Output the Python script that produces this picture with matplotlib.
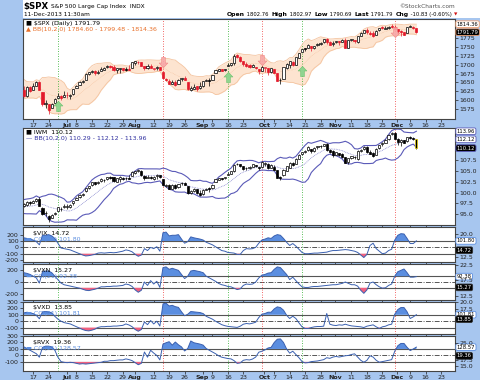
import numpy as np
import pandas as pd
import matplotlib
matplotlib.use('Agg')
import matplotlib.pyplot as plt
from matplotlib.patches import Rectangle
from matplotlib.path import Path

# ---------------- data ----------------
holidays = ['2013-07-04', '2013-09-02', '2013-11-28', '2013-12-25']
n_pre = 9  # closes before the first visible bar (for the BB(10) warm-up)

spx_pre_close = [1654.41, 1630.74, 1640.42, 1631.38, 1608.90, 1622.56, 1643.38, 1642.81, 1626.13]
spx_close = [1612.52, 1636.36, 1626.73, 1639.04, 1651.81, 1628.93, 1588.19, 1592.43, 1573.09, 1588.03,
             1603.26, 1613.20, 1606.28, 1614.96, 1614.08, 1615.41, 1631.89, 1640.46, 1652.32, 1652.62,
             1675.02, 1680.19, 1682.50, 1676.26, 1680.91, 1689.37, 1692.09, 1695.53, 1692.39, 1685.94,
             1690.25, 1691.65, 1685.33, 1685.96, 1685.73, 1706.87, 1709.67, 1707.14, 1697.37, 1690.91,
             1697.48, 1691.42, 1689.47, 1694.16, 1685.39, 1661.32, 1655.83, 1646.06, 1652.35, 1642.80,
             1656.96, 1663.50, 1656.78, 1630.48, 1634.96, 1638.17, 1632.97, 1639.77, 1653.08, 1655.08,
             1655.17, 1671.71, 1683.99, 1689.13, 1683.42, 1687.99, 1697.60, 1704.76, 1725.52, 1722.34,
             1709.91, 1701.84, 1697.42, 1692.77, 1698.67, 1691.75, 1681.55, 1695.00, 1693.87, 1678.66,
             1690.50, 1676.12, 1655.45, 1656.40, 1692.56, 1703.20, 1710.14, 1698.06, 1721.54, 1733.15,
             1744.50, 1744.66, 1754.67, 1746.38, 1752.07, 1759.77, 1762.11, 1771.95, 1763.31, 1756.54,
             1761.64, 1767.93, 1762.97, 1770.49, 1747.15, 1770.61, 1771.89, 1767.69, 1782.00, 1790.62,
             1798.18, 1791.53, 1787.87, 1781.37, 1795.85, 1804.76, 1802.48, 1802.75, 1807.23, 1805.81,
             1800.90, 1795.15, 1792.81, 1785.03, 1805.09, 1808.37, 1802.62, 1791.79]
spx_open = [1630, 1612, 1636, 1630, 1639, 1651, 1624, 1588, 1588, 1577,
            1592, 1606, 1611, 1609, 1614, 1611, 1618, 1634, 1642, 1652,
            1657, 1675, 1679, 1681, 1678, 1682, 1686, 1693, 1696, 1695,
            1684, 1687, 1690, 1687, 1687, 1690, 1706, 1708, 1707, 1696,
            1692, 1697, 1688, 1690, 1693, 1679, 1661, 1655, 1646, 1650,
            1645, 1659, 1664, 1652, 1630, 1633, 1639, 1635, 1640, 1654,
            1657, 1657, 1677, 1682, 1688, 1685, 1697, 1698, 1704, 1727,
            1722, 1711, 1702, 1698, 1695, 1695, 1688, 1682, 1691, 1692,
            1679, 1687, 1676, 1656, 1660, 1691, 1699, 1709, 1700, 1720,
            1737, 1745, 1746, 1752, 1748, 1756, 1759, 1763, 1772, 1763,
            1759, 1763, 1766, 1765, 1770, 1748, 1769, 1769, 1764, 1782,
            1790, 1798, 1790, 1789, 1784, 1797, 1806, 1801, 1804, 1808,
            1806, 1800, 1794, 1792, 1789, 1807, 1807, 1802.76]
spx_high = [1640, 1640, 1640, 1649, 1654, 1653, 1624, 1601, 1588, 1593,
            1606, 1620, 1615, 1626, 1624, 1618, 1632, 1644, 1654, 1657,
            1676, 1680, 1684, 1684, 1684, 1693, 1693, 1698, 1698, 1698,
            1690, 1692, 1690, 1693, 1698, 1707, 1710, 1710, 1707, 1696,
            1701, 1703, 1691, 1696, 1695, 1679, 1664, 1660, 1658, 1657,
            1660, 1664, 1669, 1652, 1641, 1646, 1641, 1652, 1655, 1659,
            1664, 1672, 1684, 1689, 1689, 1688, 1705, 1706, 1729, 1729,
            1725, 1711, 1707, 1701, 1703, 1695, 1688, 1696, 1694, 1692,
            1691, 1688, 1676, 1662, 1692, 1704, 1711, 1711, 1721, 1734,
            1745, 1747, 1759, 1752, 1753, 1760, 1764, 1772, 1775, 1768,
            1766, 1768, 1767, 1773, 1775, 1771, 1773, 1771, 1782, 1791,
            1798, 1803, 1795, 1795, 1797, 1805, 1808, 1808, 1809, 1814,
            1811, 1800, 1799, 1792, 1806, 1811, 1808, 1802.97]
spx_low = [1610, 1608, 1624, 1630, 1639, 1628, 1584, 1577, 1560, 1577,
           1592, 1606, 1601, 1609, 1606, 1604, 1614, 1634, 1642, 1648,
           1657, 1672, 1677, 1671, 1674, 1682, 1684, 1692, 1691, 1682,
           1678, 1676, 1682, 1681, 1684, 1690, 1700, 1701, 1696, 1684,
           1689, 1690, 1684, 1684, 1684, 1659, 1654, 1646, 1646, 1641,
           1645, 1654, 1656, 1630, 1627, 1633, 1627, 1633, 1637, 1653,
           1640, 1657, 1676, 1681, 1681, 1682, 1697, 1697, 1700, 1720,
           1709, 1697, 1694, 1691, 1694, 1687, 1674, 1682, 1680, 1670,
           1677, 1676, 1655, 1646, 1660, 1689, 1692, 1697, 1700, 1719,
           1735, 1740, 1746, 1740, 1745, 1753, 1757, 1762, 1758, 1755,
           1752, 1761, 1756, 1764, 1747, 1746, 1767, 1762, 1760, 1780,
           1790, 1788, 1785, 1778, 1784, 1794, 1800, 1800, 1802, 1805,
           1799, 1787, 1780, 1783, 1789, 1806, 1801, 1790.69]

iwm_pre_close = [97.5, 97.0, 97.3, 96.6, 95.0, 95.8, 97.3, 97.6, 96.5]
iwm_close = [97.4, 97.9, 97.5, 98.0, 98.6, 97.0, 95.0, 95.3, 93.9, 94.8,
             95.4, 96.6, 96.2, 96.9, 96.8, 97.2, 98.0, 98.8, 99.4, 99.6,
             101.0, 101.4, 102.3, 102.0, 102.5, 103.0, 102.8, 103.5, 103.3, 102.6,
             103.3, 103.6, 103.0, 103.2, 103.1, 104.7, 104.9, 105.2, 104.0, 103.2,
             103.6, 103.2, 103.6, 104.0, 103.5, 101.6, 101.6, 100.8, 101.8, 101.0,
             101.9, 102.2, 101.8, 99.8, 100.3, 100.7, 99.8, 99.5, 100.6, 100.9,
             100.8, 101.8, 103.0, 103.4, 103.1, 103.6, 104.2, 105.0, 106.3, 106.5,
             106.0, 105.4, 105.6, 105.7, 106.4, 106.1, 105.6, 107.0, 106.7, 105.6,
             106.3, 105.2, 103.4, 103.2, 105.2, 106.0, 106.8, 106.2, 107.7, 108.6,
             109.2, 109.4, 110.3, 109.5, 110.2, 110.5, 110.6, 111.0, 109.7, 109.2,
             108.5, 109.2, 108.6, 108.0, 106.8, 107.8, 108.3, 108.0, 109.5, 109.8,
             110.4, 109.2, 108.8, 108.3, 110.0, 110.8, 111.2, 112.0, 113.2, 113.5,
             112.3, 111.6, 111.9, 111.3, 112.6, 112.4, 112.3, 110.12]
iwm_open = [96.9, 97.2, 97.8, 97.7, 98.0, 98.6, 96.5, 95.4, 94.6, 94.3,
            95.2, 95.8, 96.3, 96.6, 96.8, 96.6, 97.5, 98.4, 99.0, 99.4,
            100.3, 101.0, 101.6, 102.3, 102.1, 102.7, 102.9, 103.0, 103.6, 103.5,
            102.4, 103.0, 103.4, 103.3, 103.4, 103.8, 104.5, 104.8, 105.0, 103.8,
            103.4, 103.6, 103.1, 103.7, 103.9, 103.0, 101.5, 101.6, 100.9, 101.6,
            101.2, 102.1, 102.2, 101.4, 99.8, 100.3, 100.8, 100.0, 99.6, 100.6,
            101.0, 101.0, 102.4, 102.9, 103.3, 103.2, 104.0, 104.3, 104.9, 106.4,
            106.4, 106.0, 105.5, 105.7, 105.9, 106.2, 105.8, 105.8, 106.6, 106.6,
            105.7, 105.9, 105.1, 103.5, 103.9, 105.0, 105.6, 106.8, 106.6, 107.7,
            108.8, 109.3, 109.6, 109.9, 109.5, 110.4, 110.5, 110.6, 111.1, 109.7,
            109.5, 108.6, 108.9, 108.7, 108.0, 107.0, 107.8, 108.0, 107.6, 109.5,
            109.9, 110.4, 109.2, 108.9, 108.6, 110.1, 111.0, 111.3, 112.1, 113.3,
            113.6, 112.3, 111.5, 111.9, 111.7, 112.6, 112.5, 112.1]
iwm_high = [97.7, 98.1, 98.0, 98.4, 98.8, 98.9, 96.6, 95.9, 94.8, 95.0,
            95.6, 96.8, 96.6, 97.4, 97.3, 97.3, 98.1, 98.9, 99.6, 99.8,
            101.1, 101.5, 102.4, 102.5, 102.7, 103.2, 103.0, 103.6, 103.7, 103.6,
            103.4, 103.7, 103.5, 103.6, 104.0, 104.8, 105.0, 105.3, 105.1, 103.9,
            103.9, 103.8, 103.7, 104.2, 104.0, 103.1, 101.9, 101.9, 102.0, 102.0,
            102.0, 102.3, 102.5, 101.5, 100.6, 101.0, 100.9, 100.6, 100.7, 101.1,
            101.3, 101.9, 103.0, 103.4, 103.4, 103.6, 104.6, 105.0, 106.4, 106.8,
            106.5, 106.0, 105.9, 106.0, 106.6, 106.3, 105.9, 107.1, 106.9, 106.7,
            106.4, 106.2, 105.2, 103.7, 105.3, 106.1, 106.9, 107.0, 107.8, 108.7,
            109.3, 109.6, 110.6, 110.0, 110.3, 110.6, 110.8, 111.1, 111.2, 110.0,
            109.6, 109.3, 109.0, 108.9, 108.2, 107.9, 108.4, 108.3, 109.6, 110.0,
            110.5, 110.6, 109.6, 109.3, 110.1, 110.9, 111.4, 112.1, 113.3, 113.8,
            113.9, 112.4, 112.1, 112.0, 112.7, 112.8, 112.6, 112.2]
iwm_low = [96.6, 96.9, 97.2, 97.5, 97.9, 96.9, 94.9, 94.6, 93.3, 94.1,
           94.9, 95.7, 95.7, 96.5, 96.3, 96.4, 97.1, 98.2, 98.8, 99.1,
           100.2, 100.8, 101.5, 101.7, 101.9, 102.4, 102.4, 102.9, 103.0, 102.4,
           102.3, 102.4, 102.8, 102.9, 103.0, 103.7, 104.2, 104.6, 103.8, 102.9,
           103.2, 103.0, 102.9, 103.1, 103.4, 101.5, 101.3, 100.7, 100.8, 100.9,
           101.1, 101.7, 101.7, 99.7, 99.6, 100.2, 99.6, 99.3, 99.4, 100.5,
           100.1, 100.9, 102.3, 102.8, 102.8, 103.0, 103.9, 104.2, 104.6, 106.2,
           105.9, 105.1, 105.2, 105.4, 105.8, 105.8, 105.2, 105.7, 106.0, 105.3,
           105.5, 105.1, 103.3, 102.8, 103.8, 104.9, 105.5, 106.1, 106.5, 107.6,
           108.6, 108.9, 109.5, 109.0, 109.3, 110.0, 110.2, 110.5, 109.5, 109.1,
           108.2, 108.5, 108.3, 107.8, 106.7, 106.6, 107.7, 107.6, 107.5, 109.3,
           109.8, 109.1, 108.7, 108.2, 108.5, 110.0, 110.7, 111.2, 112.0, 113.1,
           112.1, 110.9, 110.7, 111.2, 111.6, 112.2, 112.0, 110.0]

vix_cci = [150, 140, 130, 115, 90, 40, 190, 190, 200, 180, 140, 65, -10, -20, -30, -40, -60, -80, -100, -120,
           -135, -130, -120, -110, -90, -85, -90, -85, -80, -85, -80, -70, -60, -40, -50, -70, -110, -140, -120, -20,
           -50, 0, -20, 10, -60, 230, 240, 180, 190, 190, 200, 130, 65, 90, 165, 150, 140, 130, 115, 80,
           60, 40, 10, -20, -50, -60, -80, -85, -90, -110, -110, -50, -20, -25, -20, 0, 65, 115, 130, 150,
           140, 180, 200, 190, 140, 80, 30, 60, 20, -30, -80, -100, -100, -95, -90, -90, -85, -80, -75, -60,
           -50, -50, -45, -40, -35, -40, -50, -60, -80, -120, -160, -110, 30, 65, -20, -60, -100, -90, -50, -30,
           115, 190, 215, 210, 140, 60, 60, 101.80]
vxn_cci = [160, 148, 130, 100, 70, -18, 177, 189, 189, 160, 100, 41, -18, -47, -59, -71, -83, -94, -106, -124,
           -142, -148, -136, -124, -106, -83, -83, -77, -77, -71, -71, -65, -59, -35, -47, -77, -136, -177, -142, 0,
           -59, 24, -35, 12, -94, 248, 260, 218, 236, 218, 200, 130, 59, 100, 189, 200, 189, 177, 160, 100,
           70, 41, 12, -24, -47, -59, -77, -83, -106, -130, -118, -59, -35, -41, -35, 0, 70, 118, 130, 153,
           160, 218, 260, 248, 189, 130, 41, 83, 24, -35, -83, -94, -94, -83, -77, -77, -71, -65, -59, -53,
           -47, -47, -35, -24, 0, -24, -47, -47, -71, -142, -195, -136, -18, 0, -47, -83, -106, -100, -59, -35,
           100, 177, 200, 224, 160, 83, 83, 92.38]
vxd_cci = [130, 140, 130, 119, 92, 38, 146, 151, 146, 130, 76, 32, 0, -22, -32, -43, -65, -86, -108, -130,
           -146, -151, -140, -124, -97, -86, -86, -81, -81, -76, -76, -70, -65, -43, -59, -86, -130, -157, -130, -11,
           -54, 11, -43, 0, -76, 270, 281, 238, 248, 227, 216, 146, 86, 108, 151, 146, 140, 135, 119, 76,
           54, 32, 0, -27, -54, -70, -81, -86, -92, -97, -78, -47, -36, -42, -31, -16, 57, 109, 120, 140,
           140, 192, 224, 213, 172, 94, 42, 78, 42, -26, -88, -114, -114, -99, -88, -83, -83, -78, 120, -47,
           -62, -68, -57, -62, -47, -62, -73, -78, -83, -88, -99, -78, -68, -57, -88, -114, -88, -78, -57, -47,
           109, 182, 213, 213, 146, 42, 68, 101.81]
rvx_cci = [132, 106, 80, 53, 27, -27, 122, 143, 143, 132, 80, -27, -95, -106, -111, -106, -111, -122, -133, -127,
           -133, -127, -122, -117, -111, -106, -90, -90, -80, -80, -74, -69, -69, -53, -64, -80, -111, -143, -122, 53,
           -27, 80, 37, 0, -69, 175, 196, 212, 159, 207, 164, 132, 69, 106, 223, 196, 186, 175, 159, 106,
           80, 53, 27, -5, -27, -37, -48, -53, -80, -122, -115, -75, -65, -70, -55, -25, 50, 65, 85, 115,
           125, 200, 250, 255, 200, 100, 35, 65, 15, -35, -95, -115, -110, -95, -90, -85, -75, -65, -35, -45,
           -25, -15, -25, -15, -5, 0, 15, 25, -25, -75, -105, -75, -5, -25, -75, -105, -95, -85, -75, -65,
           65, 150, 185, 185, 125, 75, 100, 128.57]

cci_names = ['$VIX', '$VXN', '$VXD', '$RVX']
cci_last_price = [14.72, 15.27, 13.85, 19.36]
cci_series = [vix_cci, vxn_cci, vxd_cci, rvx_cci]
cci_price_ticks = [[12.5, 20.0], [12.5, 17.5, 22.5], [17.5, 20.0], [15.0, 17.5, 25.0]]
cci_price_lims = [(10.9, 22.3), (11.2, 22.8), (8.5, 20.05), (12.8, 28.0)]
cci_left_ticks = [[-200, -100, 0, 100, 200], [-200, 0, 200], [-100, 0, 100, 200, 300], [-100, 0, 100, 200, 300]]
cci_lims = [(-230, 320), (-310, 310), (-200, 300), (-240, 300)]

green_signal_idx = [11, 66, 90]
red_signal_idx = [45, 77, 120]
green_arrow_val = [1585, 1665, 1682]
red_arrow_val = [1708, 1712, 1793]

tick_dates = ['2013-06-17', '2013-06-24', '2013-07-01', '2013-07-08', '2013-07-15', '2013-07-22',
              '2013-07-29', '2013-08-01', '2013-08-12', '2013-08-19', '2013-08-26', '2013-09-03',
              '2013-09-09', '2013-09-16', '2013-09-23', '2013-10-01', '2013-10-07', '2013-10-14',
              '2013-10-21', '2013-10-28', '2013-11-01', '2013-11-11', '2013-11-18', '2013-11-25',
              '2013-12-02', '2013-12-09', '2013-12-16', '2013-12-23']
tick_labels = ['17', '24', 'Jul', '8', '15', '22', '29', 'Aug', '12', '19', '26', 'Sep', '9', '16', '23',
               'Oct', '7', '14', '21', '28', 'Nov', '11', '18', '25', 'Dec', '9', '16', '23']
month_labels = {'Jul', 'Aug', 'Sep', 'Oct', 'Nov', 'Dec'}

# ---------------- calendar ----------------
days = pd.bdate_range('2013-05-30', '2013-12-31')
days = days[~days.isin(pd.to_datetime(holidays))]
pos = {d.strftime('%Y-%m-%d'): i - n_pre for i, d in enumerate(days)}
N = len(spx_close)
x = np.arange(N)
tick_pos = [pos[d] + (0.8 if lab in month_labels else 0) for d, lab in zip(tick_dates, tick_labels)]
XLIM = (-0.3, 139.5)

# ---------------- figure ----------------
W, H = 480, 380
BLUE = '#a7c6ef'
FS = 4.5
fig = plt.figure(figsize=(W / 100, H / 100), dpi=100)
fig.patch.set_facecolor(BLUE)
renderer = fig.canvas.get_renderer()


def px_axes(x0, y0, x1, y1):
    return fig.add_axes([x0 / W, 1 - y1 / H, (x1 - x0) / W, (y1 - y0) / H])


def ftext(px, py, s, **kw):
    return fig.text(px / W, 1 - py / H, s, va='center', **kw)


# header background
fig.patches.append(Rectangle((23 / W, 1 - 18 / H), 1 - 23 / W, 18 / H, transform=fig.transFigure,
                             facecolor='white', edgecolor='none', zorder=0))
t_sym = ftext(23, 6.5, '$SPX', fontsize=6.2, fontweight='bold')
xname = 23 + t_sym.get_window_extent(renderer).width + 3
ftext(xname, 6.5, 'S&P 500 Large Cap Index  INDX', fontsize=4.2)
ftext(24, 14.5, '11-Dec-2013 11:30am', fontsize=4.2)
ftext(455, 6.5, '©StockCharts.com', fontsize=4.2, color='#555555', ha='right')
hdr = [('Open', True), (' 1802.76  ', False), ('High', True), (' 1802.97  ', False), ('Low', True),
       (' 1790.69  ', False), ('Last', True), (' 1791.79  ', False), ('Chg', True),
       (' -10.83 (-0.60%) ', False)]
xpix = 227
for s, b in hdr:
    tt = ftext(xpix, 14.5, s, fontsize=4.4 if b else 3.8, fontweight='bold' if b else 'normal')
    xpix += tt.get_window_extent(renderer).width
ftext(xpix, 14.5, '▼', fontsize=3.2, color='#d01010')


def style_axes(ax):
    ax.set_facecolor('white')
    for sp in ax.spines.values():
        sp.set_color('#444444')
        sp.set_linewidth(0.8)
    ax.set_xlim(*XLIM)
    ax.tick_params(axis='both', labelsize=FS, length=2, width=0.5, colors='#222222', pad=1.2)


def date_axis(ax, show):
    ax.set_xticks(tick_pos)
    if show:
        ax.set_xticklabels(tick_labels)
        for lab in ax.get_xticklabels():
            if lab.get_text() in month_labels:
                lab.set_fontweight('bold')
    else:
        ax.set_xticklabels([])


def vlines_signals(ax):
    for i in green_signal_idx:
        ax.axvline(i, color='#22aa22', lw=0.6, ls=(0, (1, 2)), zorder=1)
    for i in red_signal_idx:
        ax.axvline(i, color='#ee3333', lw=0.6, ls=(0, (1, 2)), zorder=1)


def candles(ax, o, h, l, c, prev, color_change, red='#e31a2c', yellow_last=False):
    o, h, l, c = map(np.asarray, (o, h, l, c))
    pc = np.concatenate([[prev], c[:-1]])
    cols = np.where((c < pc) & color_change, red, 'black')
    ax.vlines(x, l, h, colors=cols, lw=0.5, zorder=3)
    lo = np.minimum(o, c)
    ht = np.maximum(np.abs(c - o), (ax.get_ylim()[1] - ax.get_ylim()[0]) * 0.006)
    face = np.where(c >= o, 'white', cols)
    edge = list(cols)
    if yellow_last:
        edge[-1] = '#e8d000'
    ax.bar(x, ht, bottom=lo, width=0.7, color=face, edgecolor=edge, linewidth=0.5, zorder=4)


def bollinger(closes):
    s = pd.Series(closes)
    mid = s.rolling(10).mean()
    sd = s.rolling(10).std(ddof=0)
    return (mid - 2 * sd).values[n_pre:], mid.values[n_pre:], (mid + 2 * sd).values[n_pre:]


def box(ax, val, text, fc, ec, tc):
    ax.annotate(text, xy=(1, val), xycoords=('axes fraction', 'data'),
                xytext=(1.2, 0), textcoords='offset points', va='center', ha='left', fontsize=3.8,
                color=tc, annotation_clip=False,
                bbox=dict(boxstyle='round,pad=0.16,rounding_size=0.3', fc=fc, ec=ec, lw=0.6), zorder=10)


# ---------------- panel 1: SPX ----------------
ax1 = px_axes(23, 19, 455, 119)
style_axes(ax1)
ax1.set_ylim(1547, 1829)
lo1, mid1, up1 = bollinger(spx_pre_close + spx_close)
ax1.fill_between(x, lo1, up1, color='#fde4d0', lw=0, zorder=1)
ax1.plot(x, up1, color='#f4c4a0', lw=0.6, zorder=2)
ax1.plot(x, lo1, color='#f4c4a0', lw=0.6, zorder=2)
ax1.plot(x, mid1, color='#f2b890', lw=0.4, ls=(0, (1, 1.5)), zorder=2)
vlines_signals(ax1)
candles(ax1, spx_open, spx_high, spx_low, spx_close, spx_pre_close[-1], True)

up_arrow = Path([(0, 1), (0.85, 0.1), (0.35, 0.1), (0.35, -1), (-0.35, -1), (-0.35, 0.1), (-0.85, 0.1), (0, 1)])
dn_arrow = Path([(0, -1), (0.85, -0.1), (0.35, -0.1), (0.35, 1), (-0.35, 1), (-0.35, -0.1), (-0.85, -0.1), (0, -1)])
ax1.scatter(green_signal_idx, green_arrow_val, marker=up_arrow, s=55, color='#8fd48f', edgecolor='#6cc06c',
            lw=0.4, zorder=5)
ax1.scatter(red_signal_idx, red_arrow_val, marker=dn_arrow, s=55, color='#f7a8a8', edgecolor='#f08080',
            lw=0.4, zorder=5, alpha=0.9)

ax1.yaxis.tick_right()
ax1.set_yticks([1575, 1600, 1625, 1650, 1675, 1700, 1725, 1750, 1775])
date_axis(ax1, True)
box(ax1, up1[-1], f'{up1[-1]:.2f}', 'white', '#f0a070', 'black')
box(ax1, spx_close[-1], f'{spx_close[-1]:.2f}', 'black', '#f0a070', 'white')
ax1.text(0.008, 0.955, '■ $SPX (Daily) 1791.79', transform=ax1.transAxes, fontsize=FS, va='center')
ax1.text(0.008, 0.895, f'▲ BB(10,2.0) {lo1[-1]:.2f} - {mid1[-1]:.2f} - {up1[-1]:.2f}',
         transform=ax1.transAxes, fontsize=FS, va='center', color='#e8702a')

# ---------------- panel 2: IWM ----------------
ax2 = px_axes(23, 128, 455, 225)
style_axes(ax2)
ax2.set_ylim(92.6, 114.7)
lo2, mid2, up2 = bollinger(iwm_pre_close + iwm_close)
ax2.plot(x, up2, color='#5a5ab8', lw=0.8, zorder=2)
ax2.plot(x, lo2, color='#5a5ab8', lw=0.8, zorder=2)
ax2.plot(x, mid2, color='#8c8cd0', lw=0.6, ls=(0, (1, 1)), zorder=2)
vlines_signals(ax2)
candles(ax2, iwm_open, iwm_high, iwm_low, iwm_close, iwm_pre_close[-1], False, yellow_last=True)
ax2.yaxis.tick_right()
iwm_ticks = [95.0, 97.5, 100.0, 102.5, 105.0, 107.5]
ax2.set_yticks(iwm_ticks)
ax2.set_yticklabels([f'{v:.1f}' for v in iwm_ticks])
date_axis(ax2, False)
box(ax2, up2[-1], f'{up2[-1]:.2f}', 'white', '#5a5ab8', 'black')
box(ax2, mid2[-1], f'{mid2[-1]:.2f}', 'white', '#5a5ab8', 'black')
box(ax2, iwm_close[-1], f'{iwm_close[-1]:.2f}', 'black', '#5a5ab8', 'white')
ax2.text(0.008, 0.955, '■ IWM  110.12', transform=ax2.transAxes, fontsize=FS, va='center')
ax2.text(0.008, 0.895, f'— BB(10,2.0) {lo2[-1]:.2f} - {mid2[-1]:.2f} - {up2[-1]:.2f}',
         transform=ax2.transAxes, fontsize=FS, va='center', color='#3030a0')

# ---------------- CCI panels ----------------
cci_rows = [(227, 262), (264, 300), (302, 334), (336, 371)]
for k, (y0, y1) in enumerate(cci_rows):
    ax = px_axes(23, y0, 455, y1)
    style_axes(ax)
    v = np.asarray(cci_series[k], dtype=float)
    ax.set_ylim(*cci_lims[k])
    ax.axhline(100, color='#555555', lw=0.8, zorder=1)
    ax.axhline(-100, color='#555555', lw=0.8, zorder=1)
    ax.axhline(0, color='#555555', lw=0.7, ls=(0, (5, 1.5, 1, 1.5)), zorder=1)
    vlines_signals(ax)
    ax.fill_between(x, v, 100, where=v > 100, interpolate=True, color='#5b8ee0', lw=0, zorder=2)
    ax.fill_between(x, v, -100, where=v < -100, interpolate=True, color='#f0607e', lw=0, zorder=2)
    ax.plot(x, v, color='#3a60b0', lw=0.7, zorder=3)
    ax.set_yticks(cci_left_ticks[k])
    ax.set_yticklabels([str(t) for t in cci_left_ticks[k]])
    date_axis(ax, k == 3)
    axr = ax.twinx()
    axr.set_ylim(*cci_price_lims[k])
    axr.set_yticks(cci_price_ticks[k])
    axr.set_yticklabels([f'{t:.1f}' for t in cci_price_ticks[k]])
    axr.tick_params(axis='y', labelsize=FS, length=2, width=0.5, colors='#222222', pad=1.2)
    for sp in axr.spines.values():
        sp.set_visible(False)
    box(ax, v[-1], f'{v[-1]:.2f}', 'white', '#5b8ee0', 'black')
    box(axr, cci_last_price[k], f'{cci_last_price[k]:.2f}', 'black', '#333333', 'white')
    ax.text(0.022, 0.82, f'{cci_names[k]}  {cci_last_price[k]:.2f}', transform=ax.transAxes,
            fontsize=FS, va='center')
    ax.text(0.006, 0.64, f'▬ CCI(21) {v[-1]:.2f}', transform=ax.transAxes, fontsize=FS, va='center',
            color='#5b8ee0')

fig.savefig('out.png', dpi=100, facecolor=fig.get_facecolor())
